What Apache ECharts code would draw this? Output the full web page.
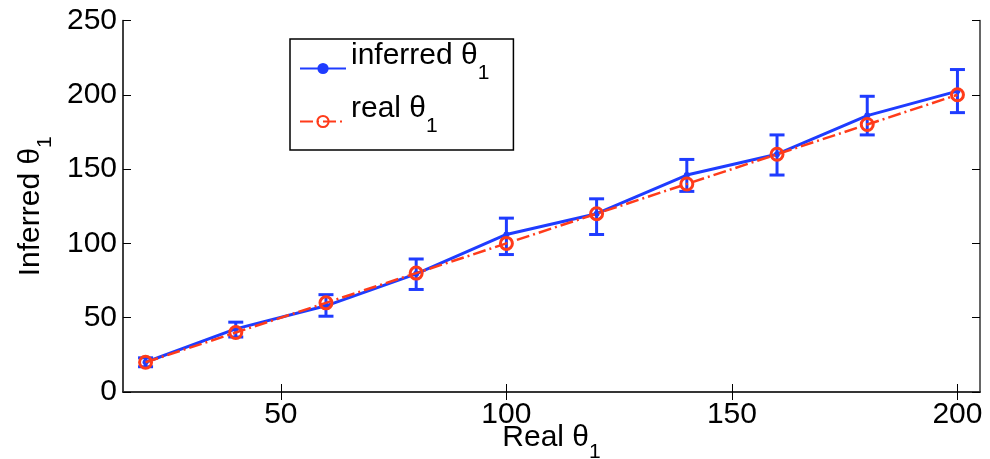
<!DOCTYPE html>
<html>
<head>
<meta charset="utf-8">
<script src="https://cdn.jsdelivr.net/npm/echarts@6/dist/echarts.min.js"></script>
<style>
  html, body { margin: 0; padding: 0; background: #fff; }
  #chart { width: 990px; height: 459px; }
</style>
</head>
<body>
<div id="chart"></div>
<script>
// values
var realTheta = [20, 40, 60, 80, 100, 120, 140, 160, 180, 200]
var inferredTheta = [20, 42.5, 58, 79.5, 106, 120, 146, 160, 186, 202.5]
var errLow = [17, 37, 51, 69, 92.5, 106, 135, 146, 173, 188]
var errHigh = [23, 47, 65.5, 89.5, 117, 130, 156.5, 173, 199, 217]
var xTicks = [50, 100, 150, 200]

var blue = '#1f3cff'
var red = '#ff3b1a'
var font = 'Liberation Sans'

var inferredData = realTheta.map(function (x, i) { return [x, inferredTheta[i]] })
var realData = realTheta.map(function (x) { return [x, x] })
var errData = realTheta.map(function (x, i) { return [x, errLow[i], errHigh[i]] })

var nameRich = {
  m: { fontSize: 30, fontFamily: font, color: '#000', lineHeight: 30 },
  s: { fontSize: 21, fontFamily: font, color: '#000', lineHeight: 30, padding: [28, 0, 0, 0] }
}

var chart = echarts.init(document.getElementById('chart'))

chart.setOption({
  backgroundColor: '#fff',
  animation: false,
  grid: { left: 123, right: 10, top: 20.5, bottom: 67, outerBoundsMode: 'none' },
  legend: {
    orient: 'vertical',
    left: 290,
    top: 39,
    padding: [2, 24, 1, 9],
    itemGap: -2,
    itemWidth: 46,
    itemHeight: 14,
    borderColor: '#000',
    borderWidth: 1.5,
    selectedMode: false,
    data: ['inferred', 'real'],
    formatter: function (name) {
      return '{m|' + name + ' θ}{s|1}'
    },
    textStyle: {
      rich: {
        m: { fontSize: 30, fontFamily: font, color: '#000', lineHeight: 30, padding: [0, 0, 25, 0] },
        s: { fontSize: 21, fontFamily: font, color: '#000', lineHeight: 30, padding: [9, 0, 0, 0] }
      }
    }
  },
  xAxis: [{
    type: 'value',
    min: 15,
    max: 205,
    name: '{m|Real θ}{s|1}',
    nameLocation: 'middle',
    nameGap: 31,
    nameMoveOverlap: false,
    nameTextStyle: { rich: nameRich },
    axisLine: { lineStyle: { color: '#000', width: 1.5 } },
    axisTick: { inside: true, length: 8, customValues: xTicks, lineStyle: { color: '#000' } },
    axisLabel: { customValues: xTicks, margin: 8, fontSize: 30, fontFamily: font, color: '#000' },
    splitLine: { show: false }
  }, {
    type: 'value',
    position: 'top',
    min: 15,
    max: 205,
    axisLine: { show: true, lineStyle: { color: '#333', width: 1.5 } },
    axisTick: { inside: true, length: 8, customValues: xTicks, lineStyle: { color: '#000' } },
    axisLabel: { show: false },
    splitLine: { show: false }
  }],
  yAxis: [{
    type: 'value',
    min: 0,
    max: 250,
    interval: 50,
    name: '{m|Inferred θ}{s|1}',
    nameLocation: 'middle',
    nameGap: 77,
    nameMoveOverlap: false,
    nameTextStyle: { rich: nameRich },
    axisLine: { show: true, lineStyle: { color: '#000', width: 1.5 } },
    axisTick: { show: true, inside: true, length: 8, lineStyle: { color: '#000' } },
    axisLabel: { margin: 6, fontSize: 30, fontFamily: font, color: '#000' },
    splitLine: { show: false }
  }, {
    type: 'value',
    position: 'right',
    min: 0,
    max: 250,
    interval: 50,
    axisLine: { show: true, lineStyle: { color: '#333', width: 1.5 } },
    axisTick: { show: true, inside: true, length: 8, lineStyle: { color: '#000' } },
    axisLabel: { show: false },
    splitLine: { show: false }
  }],
  series: [
    {
      name: 'errorbar',
      type: 'custom',
      data: errData,
      z: 2,
      renderItem: function (params, api) {
        var x = api.value(0)
        var lo = api.coord([x, api.value(1)])
        var hi = api.coord([x, api.value(2)])
        var w = 7.5
        var st = { stroke: blue, lineWidth: 3 }
        return {
          type: 'group',
          children: [
            { type: 'line', shape: { x1: lo[0], y1: lo[1], x2: hi[0], y2: hi[1] }, style: st },
            { type: 'line', shape: { x1: lo[0] - w, y1: lo[1], x2: lo[0] + w, y2: lo[1] }, style: st },
            { type: 'line', shape: { x1: hi[0] - w, y1: hi[1], x2: hi[0] + w, y2: hi[1] }, style: st }
          ]
        }
      }
    },
    {
      name: 'inferred',
      type: 'line',
      data: inferredData,
      z: 3,
      symbol: 'circle',
      symbolSize: 6,
      lineStyle: { color: blue, width: 3 },
      itemStyle: { color: blue }
    },
    {
      name: 'real',
      type: 'line',
      data: realData,
      z: 4,
      symbol: 'circle',
      symbolSize: 12,
      lineStyle: { color: red, width: 2.5, type: [13, 4, 2, 4] },
      itemStyle: { color: 'rgba(0,0,0,0)', borderColor: red, borderWidth: 3 }
    }
  ]
})
</script>
</body>
</html>
